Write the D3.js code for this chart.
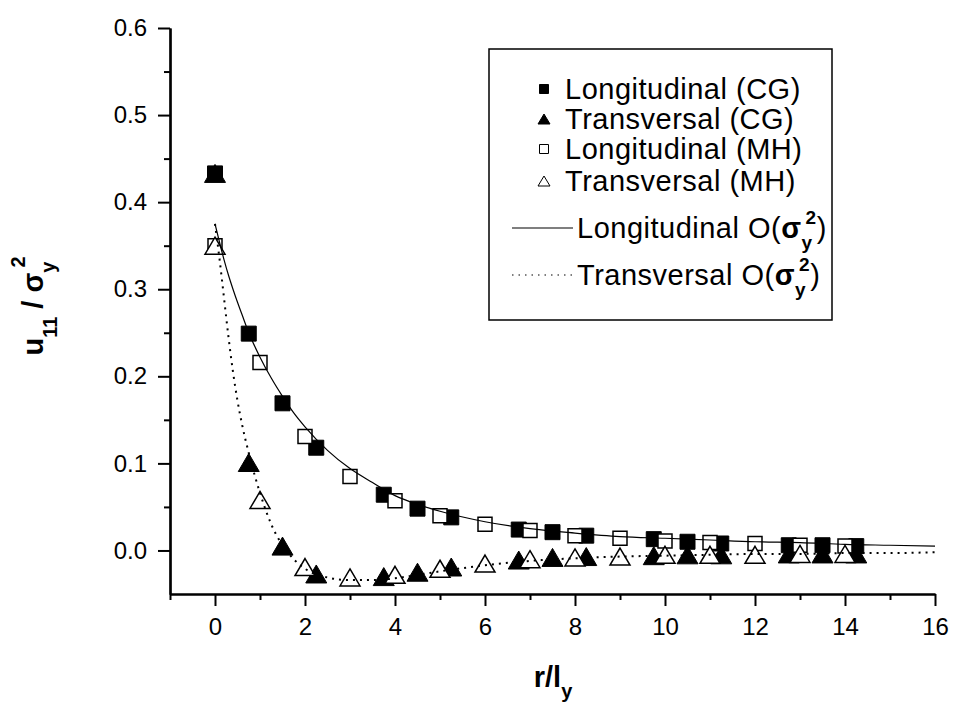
<!DOCTYPE html>
<html>
<head>
<meta charset="utf-8">
<script src="https://cdn.jsdelivr.net/npm/d3@7"></script>
<style>
body { margin: 0; background: #fff; }
text { font-family: "Liberation Sans", Arial, sans-serif; fill: #000; }
</style>
</head>
<body>
<script>
var width = 954;
var height = 702;

// CG simulation points
var cgX = [0, 0.75, 1.5, 2.25, 3.75, 4.5, 5.25, 6.75, 7.5, 8.25, 9.75, 10.5, 11.25, 12.75, 13.5, 14.25];
var cgLong = [0.433, 0.249, 0.169, 0.118, 0.064, 0.048, 0.038, 0.024, 0.021, 0.017, 0.013, 0.010, 0.008, 0.006, 0.006, 0.005];
var cgTrans = [0.433, 0.101, 0.005, -0.027, -0.030, -0.025, -0.019, -0.011, -0.008, -0.007, -0.006, -0.005, -0.005, -0.004, -0.004, -0.004];

// MH simulation points
var mhX = [0, 1, 2, 3, 4, 5, 6, 7, 8, 9, 10, 11, 12, 13, 14];
var mhLong = [0.350, 0.216, 0.131, 0.085, 0.057, 0.040, 0.030, 0.023, 0.017, 0.014, 0.011, 0.009, 0.008, 0.006, 0.005];
var mhTrans = [0.350, 0.058, -0.019, -0.031, -0.028, -0.021, -0.015, -0.010, -0.008, -0.007, -0.005, -0.005, -0.005, -0.004, -0.004];

// first order theory
var thX = [0, 0.1, 0.2, 0.3, 0.4, 0.5, 0.6, 0.75, 1, 1.25, 1.5, 1.75, 2, 2.5, 3, 3.5, 4, 4.5, 5, 6, 7, 8, 9, 10, 11, 12, 13, 14, 15, 16];
var thLong = [0.375, 0.354, 0.334, 0.316, 0.300, 0.285, 0.271, 0.250, 0.222, 0.198, 0.177, 0.158, 0.142, 0.115, 0.094, 0.078, 0.063, 0.053, 0.045, 0.033, 0.025, 0.020, 0.016, 0.014, 0.012, 0.010, 0.009, 0.007, 0.006, 0.005];
var thTrans = [0.375, 0.335, 0.290, 0.245, 0.205, 0.172, 0.145, 0.112, 0.066, 0.030, 0.006, -0.010, -0.021, -0.031, -0.034, -0.034, -0.032, -0.028, -0.024, -0.017, -0.012, -0.009, -0.007, -0.006, -0.005, -0.004, -0.004, -0.003, -0.003, -0.002];

var xMajor = [0, 2, 4, 6, 8, 10, 12, 14, 16];
var xMinor = [-1, 1, 3, 5, 7, 9, 11, 13, 15];
var yMajor = [0, 0.1, 0.2, 0.3, 0.4, 0.5, 0.6];
var yMinor = [0.05, 0.15, 0.25, 0.35, 0.45, 0.55];

var svg = d3.select("body").append("svg")
    .attr("width", width)
    .attr("height", height)
    .style("background", "#fff");

var x = d3.scaleLinear().domain([-1, 16]).range([170, 935]);
var y = d3.scaleLinear().domain([-0.05, 0.6]).range([594, 28]);

// axes
svg.append("g").attr("transform", "translate(0," + y(-0.05) + ")")
    .call(d3.axisBottom(x).tickValues(xMajor).tickSize(12).tickPadding(12).tickSizeOuter(0).tickFormat(d3.format("d")));
svg.append("g").attr("transform", "translate(0," + y(-0.05) + ")")
    .call(d3.axisBottom(x).tickValues(xMinor).tickSize(6).tickSizeOuter(0).tickFormat(""));
svg.append("g").attr("transform", "translate(" + x(-1) + ",0)")
    .call(d3.axisLeft(y).tickValues(yMajor).tickSize(12).tickPadding(11).tickSizeOuter(0).tickFormat(d3.format(".1f")));
svg.append("g").attr("transform", "translate(" + x(-1) + ",0)")
    .call(d3.axisLeft(y).tickValues(yMinor).tickSize(6).tickSizeOuter(0).tickFormat(""));

svg.selectAll(".domain").attr("stroke", "#000").attr("stroke-width", 2.2);
svg.selectAll(".tick line").attr("stroke", "#000").attr("stroke-width", 2);
svg.selectAll(".tick text").attr("font-size", 24).attr("font-family", "Liberation Sans, Arial, sans-serif");

// marker shapes
function square(s) {
  return "M" + (-s/2) + "," + (-s/2) + "h" + s + "v" + s + "h" + (-s) + "Z";
}
function triangle(w, h) {
  return "M0," + (-h/2) + "L" + (w/2) + "," + (h/2) + "L" + (-w/2) + "," + (h/2) + "Z";
}

function points(xs, ys) {
  return xs.map(function(d, i) { return {x: d, y: ys[i]}; });
}

function drawMarkers(data, path, fill, sw) {
  svg.append("g").selectAll("path")
    .data(data)
  .enter().append("path")
    .attr("transform", function(d) { return "translate(" + x(d.x) + "," + y(d.y) + ")"; })
    .attr("d", path)
    .attr("fill", fill)
    .attr("stroke", "#000")
    .attr("stroke-width", sw);
}

drawMarkers(points(cgX, cgLong), square(15), "#000", 1);
drawMarkers(points(cgX, cgTrans), triangle(21, 18), "#000", 1);
drawMarkers(points(mhX, mhLong), square(14), "#fff", 1.5);
drawMarkers(points(mhX, mhTrans), triangle(20, 17), "#fff", 1.5);

// theory curves
var line = d3.line()
  .x(function(d) { return x(d.x); })
  .y(function(d) { return y(d.y); })
  .curve(d3.curveMonotoneX);

svg.append("path")
  .attr("d", line(points(thX, thLong)))
  .attr("fill", "none")
  .attr("stroke", "#000")
  .attr("stroke-width", 1.2);

svg.append("path")
  .attr("d", line(points(thX, thTrans)))
  .attr("fill", "none")
  .attr("stroke", "#000")
  .attr("stroke-width", 2)
  .attr("stroke-dasharray", "2,5");

// axis titles
var xt = svg.append("text")
  .attr("x", 553)
  .attr("y", 687)
  .attr("text-anchor", "middle")
  .attr("font-size", 29)
  .attr("font-weight", "bold");
xt.append("tspan").text("r/l");
xt.append("tspan").attr("font-size", 20).attr("dy", 11).text("y");

var yt = svg.append("text")
  .attr("transform", "translate(43,306) rotate(-90)")
  .attr("text-anchor", "middle")
  .attr("font-size", 29)
  .attr("font-weight", "bold");
yt.append("tspan").text("u");
yt.append("tspan").attr("font-size", 20).attr("dy", 14).text("11");
yt.append("tspan").attr("dy", -14).text(" / σ");
yt.append("tspan").attr("font-size", 20).attr("dy", 12).text("y");
yt.append("tspan").attr("font-size", 20).attr("dy", -30).attr("dx", -6).text("2");

// legend
var legend = svg.append("g");
legend.append("rect")
  .attr("x", 489).attr("y", 49)
  .attr("width", 343).attr("height", 271)
  .attr("fill", "#fff")
  .attr("stroke", "#000")
  .attr("stroke-width", 1.5);

var legMarks = [
  {label: "Longitudinal (CG)", path: square(9), fill: "#000", y: 89},
  {label: "Transversal (CG)", path: triangle(12, 10), fill: "#000", y: 119},
  {label: "Longitudinal (MH)", path: square(9), fill: "#fff", y: 149},
  {label: "Transversal (MH)", path: triangle(12, 10), fill: "#fff", y: 181}
];

legMarks.forEach(function(m) {
  legend.append("path")
    .attr("transform", "translate(544," + m.y + ")")
    .attr("d", m.path)
    .attr("fill", m.fill)
    .attr("stroke", "#000")
    .attr("stroke-width", 1);
  legend.append("text")
    .attr("x", 565).attr("y", m.y + 10)
    .attr("font-size", 29)
    .attr("letter-spacing", 0.5)
    .text(m.label);
});

var legLines = [
  {label: "Longitudinal O(", dash: null, y: 228},
  {label: "Transversal O(", dash: "1.5,5", y: 275}
];

legLines.forEach(function(l) {
  legend.append("line")
    .attr("x1", 512).attr("x2", 573)
    .attr("y1", l.y).attr("y2", l.y)
    .attr("stroke", "#000")
    .attr("stroke-width", 1.2)
    .attr("stroke-dasharray", l.dash);
  var t = legend.append("text")
    .attr("x", 577).attr("y", l.y + 10)
    .attr("font-size", 29)
    .attr("letter-spacing", 0.5);
  t.append("tspan").text(l.label);
  t.append("tspan").attr("font-weight", "bold").text("σ");
  t.append("tspan").attr("font-size", 19).attr("font-weight", "bold").attr("dy", 11).text("y");
  t.append("tspan").attr("font-size", 19).attr("font-weight", "bold").attr("dy", -25).attr("dx", -7).text("2");
  t.append("tspan").attr("dy", 14).text(")");
});
</script>
</body>
</html>
